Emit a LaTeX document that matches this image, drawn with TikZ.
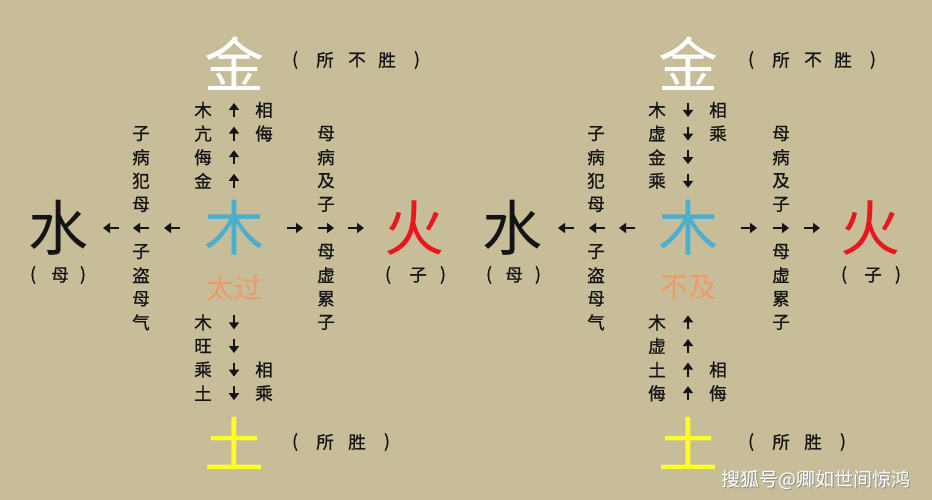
\documentclass[tikz,border=0pt]{standalone}
\usepackage{fontspec}
\newfontfamily\cjk{Noto Sans CJK SC}
\newfontfamily\cjkm[FakeBold=0.9]{Noto Sans CJK SC}
\usetikzlibrary{arrows.meta}
\definecolor{bgcol}{RGB}{199,189,152}
\definecolor{mublue}{RGB}{75,175,205}
\definecolor{huored}{RGB}{232,22,30}
\definecolor{tuyellow}{RGB}{255,255,40}
\definecolor{tagorange}{RGB}{238,155,105}
\definecolor{ink}{RGB}{20,20,20}
\newcommand\lp{(}
\newcommand\rp{)}
\begin{document}
\begin{tikzpicture}[x=1pt,y=-1pt,
  big/.style={font=\cjk\fontsize{60}{60}\selectfont, inner sep=0pt},
  lbl/.style={font=\cjkm\fontsize{17.5}{17.5}\selectfont, text=ink, inner sep=0pt},
  tagtxt/.style={font=\cjk\fontsize{28}{28}\selectfont, text=tagorange, inner sep=0pt},
  arr/.style={line width=2.8pt, ink, -{Triangle[width=10pt,length=7pt]}}]
\fill[bgcol] (0,0) rectangle (932,500);
\useasboundingbox (0,0) rectangle (932,500);

% ================= LEFT: 太过 =================
\node[big, text=white] (Ljin) at (234,64) {金};
\node[big, text=ink] (Lshui) at (58,228) {水};
\node[big, text=mublue] (Lmu) at (234,228) {木};
\node[big, text=huored] (Lhuo) at (414,228) {火};
\node[big, text=tuyellow] (Ltu) at (234,443) {土};
\node[tagtxt] (Ltag) at (234,288) {太过};
% brackets
\foreach \c/\x [count=\i] in {\lp/295,所/325,不/357,胜/387,\rp/417} \node[lbl] (Lsbs\i) at (\x,60) {\c};
\foreach \c/\x [count=\i] in {\lp/295,所/325,胜/357,\rp/387} \node[lbl] (Lss\i) at (\x,442) {\c};
\foreach \c/\x [count=\i] in {\lp/33,母/60,\rp/83} \node[lbl] (Lmo\i) at (\x,275) {\c};
\foreach \c/\x [count=\i] in {\lp/388,子/418,\rp/443} \node[lbl] (Lzi\i) at (\x,275) {\c};
% columns
\foreach \c [count=\k from 0] in {木,亢,侮,金} \node[lbl] (La\k) at (203,{110+23.6*\k}) {\c};
\foreach \c [count=\k from 0] in {相,侮} \node[lbl] (Lb\k) at (264,{110+23.6*\k}) {\c};
\foreach \c [count=\k from 1] in {子,病,犯,母} \node[lbl] (Lc\k) at (141,{110+23.6*\k}) {\c};
\foreach \c [count=\k from 6] in {子,盗,母,气} \node[lbl] (Lc\k) at (141,{110+23.6*\k}) {\c};
\foreach \c [count=\k from 1] in {母,病,及,子} \node[lbl] (Ld\k) at (326,{110+23.6*\k}) {\c};
\foreach \c [count=\k from 6] in {母,虚,累,子} \node[lbl] (Ld\k) at (326,{110+23.6*\k}) {\c};
\foreach \c [count=\k from 9] in {木,旺,乘,土} \node[lbl] (Le\k) at (203,{110+23.6*\k}) {\c};
\foreach \c [count=\k from 11] in {相,乘} \node[lbl] (Lf\k) at (264,{110+23.6*\k}) {\c};
% arrows
\foreach \k in {0,...,3} \draw[arr] (234,{110+23.6*\k+7}) -- (234,{110+23.6*\k-7});
\foreach \k in {9,...,12} \draw[arr] (234,{110+23.6*\k-7}) -- (234,{110+23.6*\k+7});
\foreach \x in {111,141,172} \draw[arr] ({\x+8},228) -- ({\x-8},228);
\foreach \x in {295,326,356} \draw[arr] ({\x-8},228) -- ({\x+8},228);

% ================= RIGHT: 不及 =================
\node[big, text=white] (Rjin) at (688,64) {金};
\node[big, text=ink] (Rshui) at (512,228) {水};
\node[big, text=mublue] (Rmu) at (688,228) {木};
\node[big, text=huored] (Rhuo) at (870,228) {火};
\node[big, text=tuyellow] (Rtu) at (688,443) {土};
\node[tagtxt] (Rtag) at (688,288) {不及};
\foreach \c/\x [count=\i] in {\lp/751,所/781,不/813,胜/843,\rp/873} \node[lbl] (Rsbs\i) at (\x,60) {\c};
\foreach \c/\x [count=\i] in {\lp/751,所/781,胜/813,\rp/843} \node[lbl] (Rss\i) at (\x,442) {\c};
\foreach \c/\x [count=\i] in {\lp/489,母/514,\rp/538} \node[lbl] (Rmo\i) at (\x,275) {\c};
\foreach \c/\x [count=\i] in {\lp/844,子/873,\rp/898} \node[lbl] (Rzi\i) at (\x,275) {\c};
\foreach \c [count=\k from 0] in {木,虚,金,乘} \node[lbl] (Ra\k) at (657,{110+23.6*\k}) {\c};
\foreach \c [count=\k from 0] in {相,乘} \node[lbl] (Rb\k) at (718,{110+23.6*\k}) {\c};
\foreach \c [count=\k from 1] in {子,病,犯,母} \node[lbl] (Rc\k) at (596,{110+23.6*\k}) {\c};
\foreach \c [count=\k from 6] in {子,盗,母,气} \node[lbl] (Rc\k) at (596,{110+23.6*\k}) {\c};
\foreach \c [count=\k from 1] in {母,病,及,子} \node[lbl] (Rd\k) at (781,{110+23.6*\k}) {\c};
\foreach \c [count=\k from 6] in {母,虚,累,子} \node[lbl] (Rd\k) at (781,{110+23.6*\k}) {\c};
\foreach \c [count=\k from 9] in {木,虚,土,侮} \node[lbl] (Re\k) at (657,{110+23.6*\k}) {\c};
\foreach \c [count=\k from 11] in {相,侮} \node[lbl] (Rf\k) at (718,{110+23.6*\k}) {\c};
\foreach \k in {0,...,3} \draw[arr] (688,{110+23.6*\k-7}) -- (688,{110+23.6*\k+7});
\foreach \k in {9,...,12} \draw[arr] (688,{110+23.6*\k+7}) -- (688,{110+23.6*\k-7});
\foreach \x in {566,597,627} \draw[arr] ({\x+8},228) -- ({\x-8},228);
\foreach \x in {749,781,812} \draw[arr] ({\x-8},228) -- ({\x+8},228);

% watermark
\node[font=\cjk\fontsize{19}{19}\selectfont, text=black!45, inner sep=0pt] (wmshadow) at (816.8,481.2) {搜狐号@卿如世间惊鸿};
\node[font=\cjk\fontsize{19}{19}\selectfont, text=white, inner sep=0pt] (wm) at (816,480) {搜狐号@卿如世间惊鸿};
\end{tikzpicture}
\end{document}
